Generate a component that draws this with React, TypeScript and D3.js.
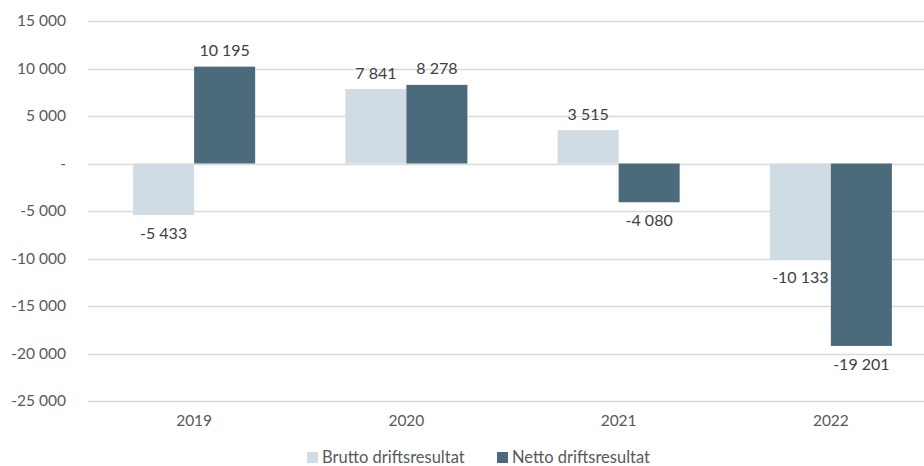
import React, { useRef, useEffect } from "react";
import * as d3 from "d3";

const years = ["2019", "2020", "2021", "2022"];
const brutto = [-5433, 7841, 3515, -10133];
const netto = [10195, 8278, -4080, -19201];
const seriesNames = ["Brutto driftsresultat", "Netto driftsresultat"];
const yTicks = [15000, 10000, 5000, 0, -5000, -10000, -15000, -20000, -25000];

const colors = ["#cfdce3", "#4b6b7c"];

const App: React.FC = () => {
  const ref = useRef<SVGSVGElement | null>(null);

  useEffect(() => {
    document.body.style.margin = "0";
    const svg = d3.select(ref.current);
    svg.selectAll("*").remove();

    const W = 924;
    const H = 466;
    const margin = { top: 21, bottom: 65, left: 88 };
    const font = "Lato, 'Open Sans', sans-serif";

    const loc = d3.formatLocale({
      decimal: ",",
      thousands: " ",
      grouping: [3],
      currency: ["", ""],
      minus: "-",
    });
    const fmt = (v: number) => (v === 0 ? "-" : loc.format(",d")(v));

    const y = d3
      .scaleLinear()
      .domain([-25000, 15000])
      .range([H - margin.bottom, margin.top]);

    // plot area runs past the right edge (cropped image)
    const x = d3
      .scaleBand()
      .domain(years)
      .range([margin.left, 937])
      .paddingInner(0.425)
      .paddingOuter(0.2125);

    const x1 = d3
      .scaleBand()
      .domain(["0", "1"])
      .range([0, x.bandwidth()]);

    // gridlines
    svg
      .append("g")
      .selectAll("line")
      .data(yTicks)
      .join("line")
      .attr("x1", margin.left)
      .attr("x2", W)
      .attr("y1", (d) => Math.round(y(d)) + 0.5)
      .attr("y2", (d) => Math.round(y(d)) + 0.5)
      .attr("stroke", "#d9d9d9")
      .attr("stroke-width", 1.3);

    // y tick labels
    svg
      .append("g")
      .selectAll("text")
      .data(yTicks)
      .join("text")
      .attr("x", 66)
      .attr("y", (d) => y(d))
      .attr("dy", "0.35em")
      .attr("text-anchor", "end")
      .attr("font-family", font)
      .attr("font-size", 15.5)
      .attr("fill", "#595959")
      .text((d) => fmt(d));

    // bars
    const series = [brutto, netto];
    series.forEach((vals, si) => {
      const g = svg.append("g");
      g.selectAll("rect")
        .data(vals)
        .join("rect")
        .attr("x", (_, i) => (x(years[i]) as number) + (x1(String(si)) as number))
        .attr("width", x1.bandwidth())
        .attr("y", (d) => y(Math.max(0, d)))
        .attr("height", (d) => Math.abs(y(d) - y(0)))
        .attr("fill", colors[si]);

      g.selectAll("text")
        .data(vals)
        .join("text")
        .attr(
          "x",
          (_, i) =>
            (x(years[i]) as number) + (x1(String(si)) as number) + x1.bandwidth() / 2
        )
        .attr("y", (d) => (d >= 0 ? y(d) - 16 : y(d) + 18))
        .attr("dy", "0.35em")
        .attr("text-anchor", "middle")
        .attr("font-family", font)
        .attr("font-size", 16)
        .attr("fill", "#404040")
        .text((d) => fmt(d));
    });

    // x labels
    svg
      .append("g")
      .selectAll("text")
      .data(years)
      .join("text")
      .attr("x", (d) => (x(d) as number) + x.bandwidth() / 2)
      .attr("y", 421)
      .attr("dy", "0.35em")
      .attr("text-anchor", "middle")
      .attr("font-family", font)
      .attr("font-size", 15.5)
      .attr("fill", "#595959")
      .text((d) => d);

    // legend
    const legendX = [307, 497];
    const lg = svg.append("g");
    seriesNames.forEach((name, i) => {
      lg.append("rect")
        .attr("x", legendX[i])
        .attr("y", 452)
        .attr("width", 11)
        .attr("height", 11)
        .attr("fill", colors[i]);
      lg.append("text")
        .attr("x", legendX[i] + 15)
        .attr("y", 457)
        .attr("dy", "0.35em")
        .attr("font-family", font)
        .attr("font-size", 16.5)
        .attr("fill", "#595959")
        .text(name);
    });
  }, []);

  return <svg ref={ref} width={924} height={466} style={{ display: "block" }} />;
};

export default App;
